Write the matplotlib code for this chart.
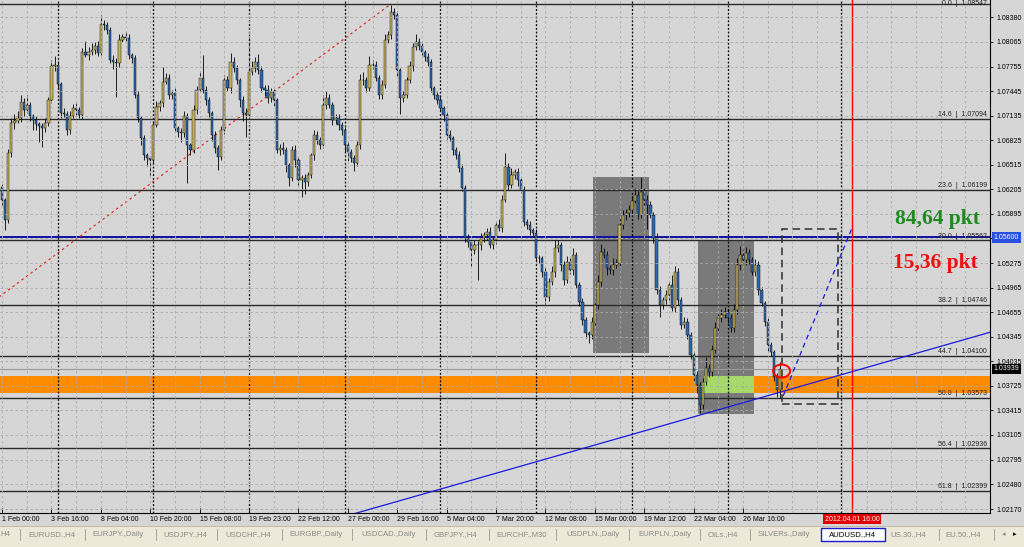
import numpy as np
import matplotlib.pyplot as plt
import matplotlib.transforms as mtransforms
from matplotlib.patches import Rectangle, Ellipse

plt.rcParams['font.family'] = ['Liberation Sans', 'DejaVu Sans']

# AUDUSD H4 closes, in pips (1e-4), one per bar from 1 Feb 00:00
first_open = 10623
closes = [
    10607, 10582, 10666, 10704, 10707, 10710, 10731, 10721, 10727, 10713,
    10708, 10703, 10700, 10698, 10704, 10733, 10776, 10777, 10753, 10717,
    10716, 10695, 10713, 10723, 10721, 10714, 10794, 10790, 10794, 10796,
    10801, 10793, 10829, 10828, 10822, 10784, 10781, 10780, 10809, 10813,
    10812, 10790, 10786, 10740, 10710, 10685, 10664, 10660, 10658, 10702,
    10724, 10729, 10756, 10761, 10740, 10742, 10698, 10693, 10692, 10713,
    10676, 10670, 10721, 10746, 10761, 10746, 10733, 10717, 10689, 10673,
    10661, 10695, 10758, 10748, 10781, 10774, 10758, 10733, 10717, 10714,
    10769, 10774, 10781, 10771, 10748, 10746, 10736, 10743, 10733, 10670,
    10673, 10670, 10651, 10635, 10670, 10658, 10632, 10635, 10630, 10639,
    10664, 10689, 10683, 10676, 10727, 10736, 10727, 10708, 10710, 10702,
    10695, 10676, 10668, 10660, 10654, 10676, 10758, 10758, 10748, 10777,
    10777, 10761, 10740, 10752, 10809, 10815, 10844, 10841, 10771, 10736,
    10740, 10758, 10776, 10800, 10806, 10801, 10794, 10788, 10781, 10748,
    10740, 10733, 10723, 10714, 10689, 10685, 10670, 10664, 10647, 10622,
    10559, 10554, 10544, 10550, 10550, 10559, 10563, 10567, 10550, 10557,
    10575, 10572, 10607, 10649, 10626, 10639, 10642, 10632, 10620, 10579,
    10575, 10569, 10565, 10534, 10534, 10516, 10485, 10504, 10516, 10546,
    10550, 10525, 10506, 10529, 10519, 10538, 10500, 10478, 10456, 10439,
    10437, 10453, 10475, 10504, 10541, 10538, 10521, 10519, 10525, 10528,
    10575, 10588, 10591, 10594, 10606, 10613, 10588, 10617, 10607, 10601,
    10588, 10559, 10493, 10474, 10481, 10487, 10500, 10471, 10516, 10481,
    10449, 10453, 10437, 10411, 10386, 10374, 10348, 10377, 10395, 10390,
    10418, 10445, 10458, 10462, 10466, 10458, 10445, 10468, 10525, 10538,
    10531, 10540, 10531, 10516, 10525, 10493, 10477, 10453, 10424, 10415,
    10384, 10367, 10394,
]
# wick lengths above / below the body, in pips
up_wick = [
    4, 3, 5, 6, 8, 10, 9, 5, 12, 4, 3, 5, 3, 4, 6, 4, 8, 12, 5, 3,
    6, 4, 7, 5, 6, 3, 5, 14, 6, 9, 5, 7, 12, 5, 4, 3, 6, 5, 8, 4,
    6, 5, 3, 4, 5, 3, 4, 2, 3, 5, 8, 4, 19, 6, 5, 4, 7, 3, 5, 6,
    4, 3, 6, 5, 8, 29, 5, 4, 3, 5, 4, 6, 7, 5, 12, 6, 4, 3, 5, 6,
    47, 8, 6, 10, 5, 4, 6, 5, 4, 3, 5, 7, 4, 3, 5, 6, 4, 3, 5, 4,
    3, 6, 5, 4, 12, 9, 5, 4, 6, 5, 3, 4, 5, 3, 4, 6, 8, 11, 4, 12,
    7, 5, 4, 6, 8, 5, 9, 6, 4, 3, 5, 4, 6, 5, 11, 6, 4, 3, 5, 4,
    3, 4, 5, 3, 4, 6, 3, 4, 5, 6, 4, 5, 3, 6, 5, 7, 4, 5, 6, 4,
    5, 8, 6, 18, 5, 9, 4, 6, 3, 5, 4, 6, 3, 5, 4, 3, 6, 5, 8, 11,
    6, 4, 5, 7, 5, 9, 4, 3, 5, 4, 3, 6, 5, 8, 10, 6, 5, 4, 9, 5,
    8, 6, 5, 7, 6, 9, 5, 19, 8, 6, 5, 4, 6, 5, 4, 7, 5, 12, 8, 5,
    4, 6, 5, 3, 4, 5, 3, 6, 14, 5, 6, 8, 5, 7, 6, 4, 5, 8, 9, 11,
    6, 8, 5, 4, 7, 5, 4, 3, 5, 4, 3, 5, 9,
]
dn_wick = [
    6, 13, 4, 5, 7, 3, 5, 8, 4, 6, 12, 8, 20, 24, 5, 4, 3, 6, 5, 7,
    4, 6, 5, 3, 7, 4, 5, 3, 6, 4, 5, 4, 3, 6, 5, 4, 8, 43, 5, 3,
    4, 5, 6, 4, 5, 8, 6, 10, 19, 4, 3, 5, 4, 3, 6, 5, 4, 7, 12, 5,
    48, 6, 4, 5, 3, 4, 6, 5, 7, 6, 16, 4, 5, 3, 6, 5, 4, 8, 10, 28,
    5, 4, 6, 5, 4, 8, 6, 5, 7, 4, 6, 5, 8, 10, 4, 9, 6, 21, 15, 5,
    4, 6, 5, 4, 3, 5, 4, 6, 5, 7, 6, 8, 12, 5, 10, 4, 5, 6, 4, 3,
    5, 4, 6, 5, 3, 4, 5, 6, 8, 21, 5, 4, 3, 6, 4, 5, 4, 6, 5, 4,
    6, 5, 4, 7, 5, 4, 6, 5, 4, 3, 5, 6, 22, 5, 44, 6, 5, 7, 4, 5,
    6, 4, 5, 3, 6, 4, 5, 7, 4, 5, 4, 6, 5, 4, 7, 6, 9, 5, 4, 6,
    5, 7, 6, 4, 5, 6, 4, 5, 7, 6, 10, 5, 4, 6, 5, 4, 8, 5, 6, 4,
    5, 4, 6, 5, 4, 3, 5, 4, 6, 30, 4, 6, 5, 14, 4, 5, 6, 4, 5, 6,
    5, 4, 6, 5, 7, 10, 10, 5, 4, 6, 5, 4, 6, 5, 4, 6, 5, 4, 5, 6,
    4, 6, 5, 4, 5, 6, 4, 5, 7, 5, 6, 8, 10,
]

time_labels = ['1 Feb 00:00', '3 Feb 16:00', '8 Feb 04:00', '10 Feb 20:00',
               '15 Feb 08:00', '19 Feb 23:00', '22 Feb 12:00', '27 Feb 00:00',
               '29 Feb 16:00', '5 Mar 04:00', '7 Mar 20:00', '12 Mar 08:00',
               '15 Mar 00:00', '19 Mar 12:00', '22 Mar 04:00', '26 Mar 16:00']
week_starts = [18, 49, 80, 111, 142, 173, 204, 235]

price_ticks = [1.08380, 1.08065, 1.07755, 1.07445, 1.07135, 1.06825, 1.06515,
               1.06205, 1.05895, 1.05585, 1.05275, 1.04965, 1.04655, 1.04345,
               1.04035, 1.03725, 1.03415, 1.03105, 1.02795, 1.02480, 1.02170]

fib_pct = ['0.0', '14.6', '23.6', '30.0', '38.2', '44.7', '50.0', '56.4', '61.8']
fib_val = [1.08547, 1.07094, 1.06199, 1.05562, 1.04746, 1.04100, 1.03573,
           1.02936, 1.02399]

bid = 1.03939
level_line = 1.05600
zone = (1.0363, 1.0385)
box1 = (191.5, 209.5, 1.0414, 1.0636)
box2 = (225.5, 243.5, 1.0337, 1.0556)
green = (227.5, 243.5, 1.0363, 1.0385)
dash_box = (252.6, 270.7, 1.03496, 1.05700)
trend = [(226.1, 1.03357), (252.0, 1.03645)]
fib_base = [(-40, 1.0371), (126, 1.08547)]
target = [(253.0, 1.03596), (275.3, 1.05717)]
vline_red = 275.3
vline_dot = 271.7
circle = (252.5, 1.03912, 5.5, 0.00164)

tabs = ['H4', 'EURUSD.,H4', 'EURJPY.,Daily', 'USDJPY.,H4', 'USDCHF.,H4',
        'EURGBP.,Daily', 'USDCAD.,Daily', 'GBPJPY.,H4', 'EURCHF.,M30',
        'USDPLN.,Daily', 'EURPLN.,Daily', 'OILs.,H4', 'SILVERs.,Daily',
        'AUDUSD.,H4', 'US.30.,H4', 'EU.50.,H4']
tab_left = [0, 28, 92, 163, 225, 289, 361, 434, 496, 566, 638, 708, 758, 829, 890, 945]
tab_seps = [20, 85, 156, 217, 282, 352, 426, 489, 556, 629, 700, 750, 939, 994]

W, H = 1024, 547
BG = '#D6D6D6'
fig = plt.figure(figsize=(W / 100, H / 100), dpi=100, facecolor=BG)
ax = fig.add_axes([0, 1 - 513 / H, 990 / W, 513 / H])
ax.set_facecolor(BG)

c = np.array(closes) / 1e4
o = np.concatenate([[first_open / 1e4], c[:-1]])
hi = np.maximum(o, c) + np.array(up_wick) / 1e4
lo = np.minimum(o, c) - np.array(dn_wick) / 1e4
x = np.arange(len(c))

# background objects
ax.axhspan(zone[0], zone[1], color='#FF8C00', zorder=0.2, lw=0)
for b in (box1, box2):
    ax.add_patch(Rectangle((b[0], b[2]), b[1] - b[0], b[3] - b[2],
                           facecolor='#7A7A7A', edgecolor='none', zorder=0.3))
ax.add_patch(Rectangle((green[0], green[2]), green[1] - green[0], green[3] - green[2],
                       facecolor='#A6D86A', edgecolor='none', zorder=0.4))

# grid
ax.set_axisbelow(False)
ax.grid(True, which='both', color='#ABABAB', linestyle=(0, (3, 3)), linewidth=0.6, zorder=0.5)

for w in week_starts:
    ax.axvline(w, color='black', linestyle=(0, (1.5, 1.5)), linewidth=0.9, zorder=0.6)
ax.axvline(vline_dot, color='black', linestyle=(0, (1.5, 1.5)), linewidth=0.9, zorder=0.6)

for pct, v in zip(fib_pct, fib_val):
    ax.axhline(v, color='#2A2A2A', linewidth=1.0, zorder=0.7)
ax.axhline(bid, color='#9A9A9A', linewidth=0.8, zorder=0.7)
ax.axhline(level_line, color='#1010A0', linewidth=1.4, zorder=0.8)

(fx0, fy0), (fx1, fy1) = fib_base
ax.plot([fx0, fx1], [fy0, fy1], color='#E03030', linestyle=(0, (2, 2.5)), linewidth=0.9, zorder=0.9)

# candles
bull = c >= o
ax.vlines(x, lo, hi, color='black', linewidth=0.6, zorder=2)
ax.bar(x, np.where(np.abs(c - o) < 1e-5, 0.00004, c - o), bottom=o, width=0.72,
       color=np.where(bull, '#C8B25A', '#2E68AE'), edgecolor='black', linewidth=0.3, zorder=2.1)

# drawn objects on top
ax.axvline(vline_red, color='red', linewidth=1.0, zorder=2.5)
(tx0, ty0), (tx1, ty1) = trend
slope = (ty1 - ty0) / (tx1 - tx0)
ax.plot([100, 330], [ty0 + slope * (100 - tx0), ty0 + slope * (330 - tx0)],
        color='#1A1AE0', linewidth=0.9, zorder=2.6)
(gx0, gy0), (gx1, gy1) = target
ax.plot([gx0, gx1], [gy0, gy1], color='#1A1AE0', linestyle=(0, (4, 3)), linewidth=0.9, zorder=2.6)
ax.add_patch(Rectangle((dash_box[0], dash_box[2]), dash_box[1] - dash_box[0],
                       dash_box[3] - dash_box[2], fill=False, edgecolor='#303030',
                       linestyle=(0, (5, 3)), linewidth=1.1, zorder=2.6))
ax.add_patch(Ellipse(circle[:2], circle[2], circle[3], fill=False, edgecolor='red',
                     linewidth=1.4, zorder=2.7))

ax.text(302.9, 1.05830, '84,64 pkt', color='#1F8A1F', fontsize=15.5, fontweight='bold',
        family='Liberation Serif', ha='center', va='center', zorder=3)
ax.text(302.3, 1.05275, '15,36 pkt', color='#EE1111', fontsize=15.5, fontweight='bold',
        family='Liberation Serif', ha='center', va='center', zorder=3)

ax.set_xlim(-0.68, 320.0)
ax.set_ylim(1.02120, 1.08595)

# axes
ax.set_xticks(np.arange(0, 241, 16))
ax.set_xticks([t for t in range(0, 321, 8) if t % 16 or t > 240], minor=True)
ax.set_xticklabels(time_labels)
for lbl in ax.get_xticklabels():
    lbl.set_horizontalalignment('left')
ax.tick_params(axis='x', which='major', direction='in', length=3.5, width=0.6,
               pad=2.5, labelsize=5)
ax.tick_params(axis='x', which='minor', length=0)

ax.yaxis.tick_right()
ax.set_yticks(price_ticks)
ax.set_yticklabels(['' if abs(t - 1.05585) < 1e-6 else f'{t:.5f}' for t in price_ticks])
ax.tick_params(axis='y', direction='out', length=2.5, width=0.6, pad=2, labelsize=5)
for s in ('left', 'top'):
    ax.spines[s].set_visible(False)
for s in ('right', 'bottom'):
    ax.spines[s].set_linewidth(0.8)

yblend = mtransforms.blended_transform_factory(ax.transAxes, ax.transData)
xblend = mtransforms.blended_transform_factory(ax.transData, ax.transAxes)
for pct, v in zip(fib_pct, fib_val):
    if pct == '0.0':
        # top level sits at the chart edge: keep its label inside the figure
        ax.text(0.997, 0.9995, f'{pct}  |  {v:.5f}', transform=ax.transAxes, ha='right',
                va='top', fontsize=5, color='#202020', zorder=3)
        continue
    ax.text(0.997, v + 0.0001, f'{pct}  |  {v:.5f}', transform=yblend, ha='right',
            va='bottom', fontsize=5, color='#202020', zorder=3)
ax.text(1.004, level_line, f'{level_line:.5f}', transform=yblend, ha='left', va='center',
        fontsize=5, color='white', zorder=4, clip_on=False,
        bbox=dict(boxstyle='square,pad=0.25', facecolor='#2A4FE0', edgecolor='none'))
ax.text(1.004, bid, f'{bid:.5f}', transform=yblend, ha='left', va='center',
        fontsize=5, color='white', zorder=4, clip_on=False,
        bbox=dict(boxstyle='square,pad=0.25', facecolor='black', edgecolor='none'))
ax.text(vline_red, -0.012, '2012.04.01 16:00', transform=xblend, ha='center', va='center',
        fontsize=5, color='white', zorder=4, clip_on=False,
        bbox=dict(boxstyle='square,pad=0.25', facecolor='#E00000', edgecolor='none'))

# terminal tab strip
fig.patches.append(Rectangle((0, 0), 1, 1 - 526 / H, transform=fig.transFigure,
                             facecolor='#ECE9D8', edgecolor='none', zorder=0))
fig.add_artist(plt.Line2D([0, 1], [1 - 526 / H] * 2, color='#B8B4A4', linewidth=0.6))
for name, left in zip(tabs, tab_left):
    active = name == 'AUDUSD.,H4'
    fig.text(left / W, 1 - 534.5 / H, name, fontsize=5.6, ha='left', va='center',
             color='black' if active else '#8A8A8A')
fig.patches.append(Rectangle((821 / W, 1 - 541 / H), 64 / W, 13 / H, transform=fig.transFigure,
                             facecolor='white', edgecolor='#1A1AD0', linewidth=1.0, zorder=0.5))
for s in tab_seps:
    fig.add_artist(plt.Line2D([s / W] * 2, [1 - 529 / H, 1 - 540 / H], color='#9A9A9A', linewidth=0.6))
fig.text(1004 / W, 1 - 534.5 / H, '\u25c2', fontsize=5, ha='center', va='center', color='#8A8A8A',
         family='DejaVu Sans')
fig.text(1015 / W, 1 - 534.5 / H, '\u25b8', fontsize=5, ha='center', va='center', color='black',
         family='DejaVu Sans')

fig.savefig('out.png', dpi=100, facecolor=BG)
